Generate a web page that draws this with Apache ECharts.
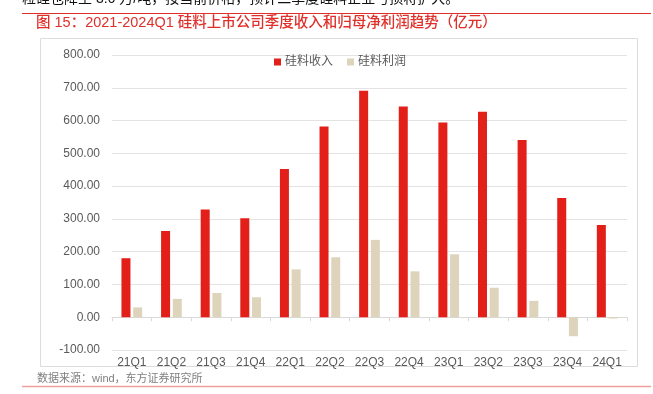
<!DOCTYPE html>
<html><head><meta charset="utf-8">
<script src="https://cdn.jsdelivr.net/npm/echarts@6/dist/echarts.min.js"></script>
<style>html,body{margin:0;padding:0;background:#fff}#c{width:653px;height:394px}</style>
</head><body><div id="c"></div>
<script>
const categories = ['21Q1','21Q2','21Q3','21Q4','22Q1','22Q2','22Q3','22Q4','23Q1','23Q2','23Q3','23Q4','24Q1'];
const revenue = [180, 263, 329, 302, 452, 582, 691, 643, 594, 627, 541, 364, 281];
const profit = [30, 56, 74, 61, 146, 183, 236, 140, 192, 90, 50, -58, -4];
const seriesNames = ['硅料收入', '硅料利润'];
const titleText = '图 15：2021-2024Q1 硅料上市公司季度收入和归母净利润趋势（亿元）';
const topText = '粒硅也降至 3.6 万/吨，按当前价格，预计二季度硅料企业亏损将扩大。';
const sourceText = '数据来源：wind，东方证券研究所';

const FF = '"Liberation Sans", Arial, "Noto Sans CJK SC", sans-serif';
const chart = echarts.init(document.getElementById('c'));
chart.setOption({
  animation: false,
  textStyle: { fontFamily: FF },
  grid: { left: 112, right: 26, top: 55, bottom: 44, containLabel: false },
  legend: {
    data: seriesNames, left: 269, top: 51, itemWidth: 7, itemHeight: 7, itemGap: 14,
    icon: 'rect',
    textStyle: { color: '#595959', fontSize: 12, fontFamily: FF, padding: [0,0,0,-1] }
  },
  xAxis: {
    type: 'category', data: categories,
    axisLine: { lineStyle: { color: '#d9d9d9' } },
    axisTick: { show: true, length: 4, lineStyle: { color: '#d9d9d9' } },
    axisLabel: { color: '#595959', fontSize: 12, margin: 7, interval: 0 }
  },
  yAxis: {
    type: 'value', min: -100, max: 800, interval: 100,
    axisLine: { show: false }, axisTick: { show: false },
    axisLabel: { color: '#595959', fontSize: 12, margin: 12, formatter: v => v.toFixed(2) },
    splitLine: { lineStyle: { color: '#e3e3e3' } }
  },
  series: [
    { name: seriesNames[0], type: 'bar', data: revenue, barWidth: 9, barGap: '30%',
      itemStyle: { color: '#E21F18' } },
    { name: seriesNames[1], type: 'bar', data: profit, barWidth: 9,
      itemStyle: { color: '#DED4BC' } }
  ],
  graphic: [
    { type: 'text', left: 22, top: -8, style: { text: topText, fontSize: 14, fill: '#111', fontFamily: FF } },
    { type: 'line', shape: { x1: 22, y1: 13.5, x2: 651, y2: 13.5 }, style: { stroke: '#e0302a', lineWidth: 1 } },
    { type: 'text', left: 36, top: 16, style: { text: titleText, fontSize: 14.5, fontWeight: 500, fill: '#e0302a', fontFamily: FF } },
    { type: 'rect', shape: { x: 40.5, y: 38.5, width: 597, height: 328 }, style: { fill: 'none', stroke: '#dcdcdc', lineWidth: 1 }, z: -1 },
    { type: 'text', left: 37, top: 373, style: { text: sourceText, fontSize: 11, fill: '#7f7f7f', fontFamily: FF } },
    { type: 'line', shape: { x1: 22, y1: 386.5, x2: 651, y2: 386.5 }, style: { stroke: '#f0a09c', lineWidth: 1.5 } }
  ]
});
</script></body></html>
